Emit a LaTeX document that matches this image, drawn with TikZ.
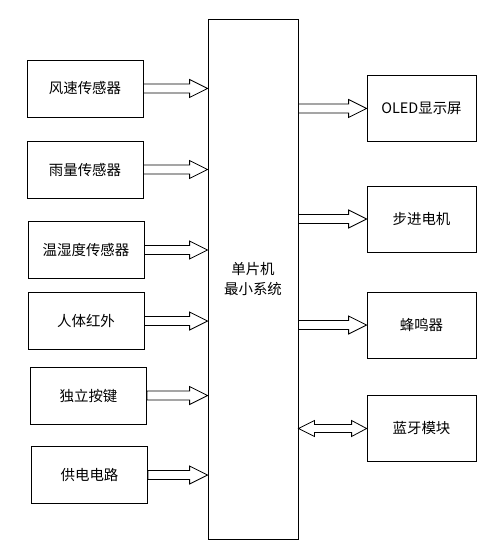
\documentclass[tikz,border=0pt]{standalone}
\usepackage{fontspec}
\setmainfont{Noto Sans CJK SC}
\usetikzlibrary{calc}

\begin{document}
\begin{tikzpicture}[x=1bp,y=-1bp,line width=0.8bp,
  box/.style={draw,inner sep=0pt,font=\fontsize{14.5}{21}\selectfont},
  sensor/.style={box,minimum width=116bp,minimum height=57bp},
  device/.style={box,minimum width=109bp,minimum height=66bp},
  fat/.style={to path={let \p1=(\tikztostart),\p2=(\tikztotarget) in
    (\x1,\y1+4.5bp) -- (\x2-18bp,\y1+4.5bp) -- (\x2-18bp,\y1+9bp) -- (\x2,\y1)
    -- (\x2-18bp,\y1-9bp) -- (\x2-18bp,\y1-4.5bp) -- (\x1,\y1-4.5bp) -- cycle}},
  fatboth/.style={to path={let \p1=(\tikztostart),\p2=(\tikztotarget) in
    (\x1,\y1) -- (\x1+16bp,\y1+8bp) -- (\x1+16bp,\y1+4bp) -- (\x2-15bp,\y1+4bp)
    -- (\x2-15bp,\y1+8bp) -- (\x2,\y1) -- (\x2-15bp,\y1-8bp) -- (\x2-15bp,\y1-4bp)
    -- (\x1+16bp,\y1-4bp) -- (\x1+16bp,\y1-8bp) -- cycle}}]
\useasboundingbox (0,0) rectangle (499,553);
% mcu
\node[box,minimum width=90bp,minimum height=520bp,align=center] (mcu) at (253,279) {单片机\\最小系统};
% inputs
\node[sensor] (wind) at (85,88.5) {风速传感器};
\node[sensor] (rain) at (85,169.5) {雨量传感器};
\node[sensor] (temp) at (86,250) {温湿度传感器};
\node[sensor] (pir) at (86,321) {人体红外};
\node[sensor] (key) at (88.5,395.5) {独立按键};
\node[sensor] (power) at (89.5,475) {供电电路};
% outputs
\node[device] (oled) at (421.5,108.5) {OLED显示屏};
\node[device] (motor) at (421.5,219) {步进电机};
\node[device] (buzz) at (421.5,325) {蜂鸣器};
\node[device] (bt) at (421.5,428.5) {蓝牙模块};
% arrows
\foreach \s in {wind,rain,temp,pir,key,power}
  \draw (\s.east) to[fat] (\s.east -| mcu.west);
\foreach \s in {oled,motor,buzz}
  \draw (\s.west -| mcu.east) to[fat] (\s.west);
\draw (bt.west -| mcu.east) to[fatboth] (bt.west);
\end{tikzpicture}
\end{document}
